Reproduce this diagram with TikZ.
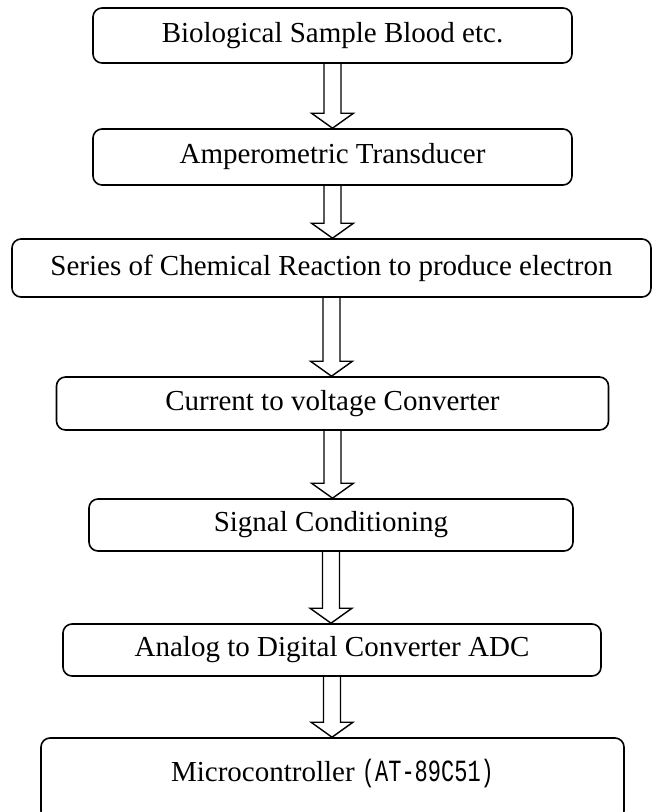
\documentclass[tikz,border=0pt]{standalone}
\usepackage{fontspec}
\setmainfont{Liberation Serif}
\newfontfamily\partfont{Liberation Mono}
\usepackage{tikz}
\usetikzlibrary{calc}

% 空心箭头：从上一框底边到下一框顶边
\newcommand{\flowarrow}[2]{%
    \draw[arrowline] let \p1=(#1.south), \p2=(#2.north) in
        (\x1-\shaft pt,\y1) -- (\x1-\shaft pt,\y2+\headlen pt)
        -- (\x1-\head pt,\y2+\headlen pt) -- (\x1,\y2)
        -- (\x1+\head pt,\y2+\headlen pt) -- (\x1+\shaft pt,\y2+\headlen pt)
        -- (\x1+\shaft pt,\y1);}
% 型号用窄高字体
\newcommand{\partno}[1]{{\partfont\fontsize{22}{26}\selectfont\scalebox{1}[1.4]{#1}}}

\begin{document}
\begin{tikzpicture}[x=1pt, y=-1pt,
    stage/.style={draw, line width=1.6pt, rounded corners=9pt, inner sep=0pt,
        font=\fontsize{29}{34}\selectfont},
    arrowline/.style={line width=1.4pt, line join=miter, xshift=2pt}]
    % 参数设置
    \def\shaft{8.5} % 箭杆半宽
    \def\head{21} % 箭头半宽
    \def\headlen{15} % 箭头长度

    % 画布范围
    \useasboundingbox (0,0) rectangle (654,812);
    \clip (0,0) rectangle (654,812);

    % 各级方框
    \node[stage, minimum width=479pt, minimum height=55pt] (sample) at (332.5,35.5) {Biological Sample Blood etc.};
    \node[stage, minimum width=479pt, minimum height=56pt] (transducer) at (332.5,157) {Amperometric Transducer};
    \node[stage, minimum width=639pt, minimum height=58pt] (reaction) at (331.5,268) {Series of Chemical Reaction to produce electron};
    \node[stage, minimum width=552pt, minimum height=53pt] (ivconv) at (332.5,403.5) {Current to voltage Converter};
    \node[stage, minimum width=484pt, minimum height=52pt] (conditioning) at (331,525) {Signal Conditioning};
    \node[stage, minimum width=538pt, minimum height=52pt] (adc) at (332,650) {Analog to Digital Converter ADC};
    \node[stage, minimum width=583pt, minimum height=82pt, text depth=18pt] (mcu) at (332.5,779) {Microcontroller \partno{(AT-89C51)}};

    % 连接箭头
    \flowarrow{sample}{transducer}
    \flowarrow{transducer}{reaction}
    \flowarrow{reaction}{ivconv}
    \flowarrow{ivconv}{conditioning}
    \flowarrow{conditioning}{adc}
    \flowarrow{adc}{mcu}
\end{tikzpicture}
\end{document}
